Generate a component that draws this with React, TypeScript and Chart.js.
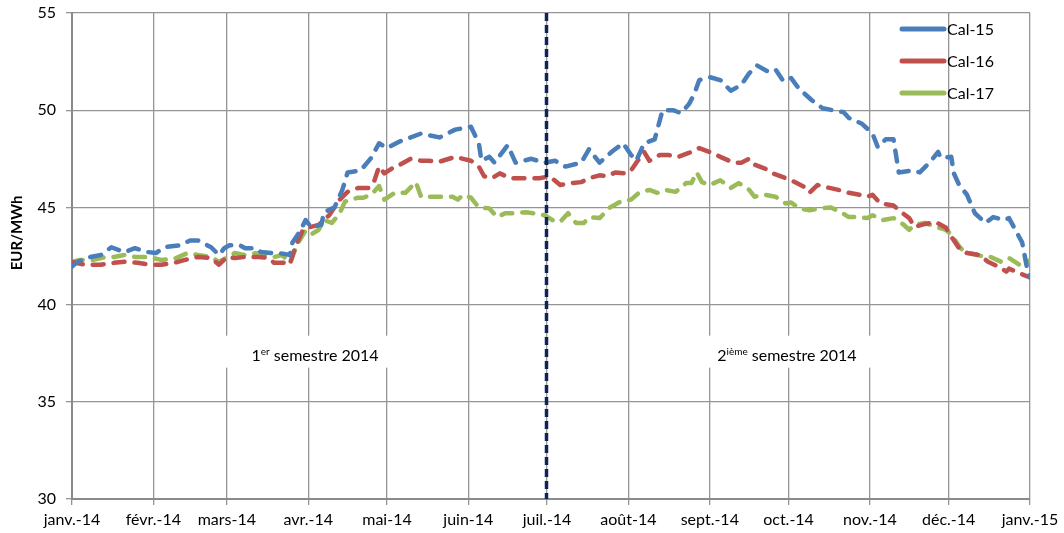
import React, { useEffect, useRef } from "react";
import { Chart, registerables } from "chart.js";

Chart.register(...registerables);

// ---- Data ----
const monthTickDays = [0, 31, 59, 90, 120, 151, 181, 212, 243, 273, 304, 334, 365];
const monthTickLabels = [
  "janv.-14", "févr.-14", "mars-14", "avr.-14", "mai-14", "juin-14", "juil.-14",
  "août-14", "sept.-14", "oct.-14", "nov.-14", "déc.-14", "janv.-15",
];
const yAxisTitle = "EUR/MWh";
const seriesLabels = ["Cal-15", "Cal-16", "Cal-17"];
const seriesColors = ["#4A7EBB", "#C0504D", "#9BBB59"];

const cal15Days = [0,2,7,11,15,20,24,29,32,35,41,45,48,53,56,58,60,64,66,70,72,76,79,83,84,87,89,91,95,96,100,103,105,110,114,117,120,125,133,140,146,152,155,156,159,161,166,169,175,180,184,188,194,197,201,206,210,213,215,218,222,225,229,232,235,237,239,243,247,251,255,258,261,265,268,271,274,277,282,286,290,294,296,301,305,307,310,313,315,320,323,327,330,331,335,336,338,341,344,348,351,355,357,362,364,365];
const cal15Values = [41.95,42.2,42.45,42.55,42.95,42.7,42.9,42.7,42.65,42.95,43.05,43.3,43.3,42.95,42.55,42.9,43.05,43.05,42.9,42.9,42.7,42.65,42.65,42.55,43.2,43.8,44.35,44.0,44.1,44.75,45.0,45.9,46.8,46.9,47.55,48.3,48.05,48.4,48.8,48.6,49.0,49.15,48.3,47.4,47.6,47.3,48.2,47.3,47.5,47.3,47.4,47.1,47.3,48.0,47.3,47.9,48.3,47.7,47.4,48.3,48.5,50.0,50.0,49.85,50.3,50.8,51.55,51.7,51.55,51.0,51.3,51.9,52.3,52.0,52.1,51.5,51.65,51.1,50.5,50.1,50.0,49.9,49.6,49.3,48.8,48.1,48.5,48.5,46.8,46.9,46.8,47.35,47.85,47.55,47.6,46.75,46.15,45.65,44.7,44.2,44.5,44.35,44.45,43.2,41.8,41.4];

const cal16Days = [0,5,11,16,20,25,30,34,39,43,48,53,56,59,62,66,71,75,77,81,83,85,88,91,94,98,102,105,109,113,115,117,119,123,125,129,133,136,140,146,152,155,157,160,163,167,173,178,182,186,190,194,197,201,204,207,211,213,215,218,220,224,227,231,235,239,244,247,252,255,258,260,264,267,272,274,279,281,284,287,292,296,300,303,305,308,313,316,319,321,325,329,333,335,338,341,346,349,353,356,357,363,365];
const cal16Values = [42.2,42.05,42.05,42.15,42.2,42.15,42.05,42.05,42.15,42.3,42.45,42.4,42.05,42.45,42.4,42.45,42.45,42.4,42.15,42.15,42.05,42.95,43.85,44.0,44.1,44.6,45.4,45.8,46.0,46.0,46.3,47.1,46.75,47.1,47.2,47.5,47.4,47.4,47.35,47.6,47.4,47.1,46.6,46.5,46.75,46.5,46.5,46.5,46.6,46.15,46.25,46.3,46.5,46.65,46.6,46.8,46.75,46.9,47.3,47.85,47.4,47.7,47.7,47.6,47.8,48.05,47.8,47.6,47.3,47.3,47.5,47.2,47.0,46.75,46.5,46.4,46.05,45.75,46.15,46.05,45.9,45.75,45.65,45.55,45.65,45.2,45.1,44.75,44.45,44.0,44.15,44.25,43.95,43.5,42.9,42.65,42.55,42.2,41.95,41.7,41.85,41.5,41.4];

const cal17Days = [0,3,8,13,16,20,24,29,34,39,44,48,53,56,58,62,66,70,74,77,80,83,86,89,91,94,96,99,102,104,109,111,114,117,119,123,127,131,133,136,141,145,147,149,152,155,159,162,165,169,173,176,180,183,186,189,192,195,197,201,205,209,213,216,220,223,226,230,234,236,238,240,243,247,251,254,258,260,264,268,272,274,277,281,285,289,293,296,300,303,305,309,313,316,319,321,325,329,333,335,338,340,345,348,350,354,357,362,365];
const cal17Values = [42.2,42.3,42.3,42.45,42.45,42.55,42.45,42.45,42.3,42.35,42.65,42.55,42.45,42.2,42.35,42.65,42.55,42.65,42.55,42.45,42.55,42.15,43.15,43.8,43.6,43.85,44.35,44.2,44.7,45.3,45.5,45.5,45.65,46.1,45.4,45.75,45.75,46.3,45.55,45.55,45.55,45.55,45.4,45.65,45.5,45.0,44.95,44.5,44.7,44.7,44.75,44.7,44.6,44.35,44.25,44.7,44.2,44.2,44.5,44.45,45.0,45.3,45.4,45.75,45.9,45.75,45.9,45.8,46.25,46.25,46.8,46.3,46.15,46.4,46.0,46.25,45.9,45.55,45.65,45.55,45.2,45.25,44.95,44.85,44.95,45.0,44.75,44.5,44.5,44.45,44.6,44.35,44.45,44.2,43.85,44.1,44.2,44.0,43.85,43.6,43.0,42.7,42.55,42.45,42.45,42.2,42.4,41.95,42.3];

const semesterSplitDay = 181;
const semesterNotes = [
  { day: 92.6, value: 37.4, num: "1", sup: "er", rest: " semestre 2014" },
  { day: 272.4, value: 37.4, num: "2", sup: "ième", rest: " semestre 2014" },
];

const FONT = "Lato, 'Open Sans', sans-serif";

const overlayPlugin = {
  id: "overlay",
  beforeDatasetsDraw(chart: any) {
    const { ctx, scales } = chart;
    const x = scales.x;
    const y = scales.y;
    ctx.save();
    for (const n of semesterNotes) {
      const cx = x.getPixelForValue(n.day);
      const cy = y.getPixelForValue(n.value);
      ctx.fillStyle = "#ffffff";
      ctx.fillRect(cx - 90, cy - 19.5, 180, 32);
      ctx.fillStyle = "#000000";
      ctx.textBaseline = "alphabetic";
      ctx.textAlign = "left";
      ctx.font = `16px ${FONT}`;
      const w1 = ctx.measureText(n.num).width;
      const w3 = ctx.measureText(n.rest).width;
      ctx.font = `10px ${FONT}`;
      const w2 = ctx.measureText(n.sup).width;
      let sx = cx - (w1 + w2 + w3) / 2;
      const base = cy + 6;
      ctx.font = `16px ${FONT}`;
      ctx.fillText(n.num, sx, base);
      sx += w1;
      ctx.font = `10px ${FONT}`;
      ctx.fillText(n.sup, sx, base - 6);
      sx += w2;
      ctx.font = `16px ${FONT}`;
      ctx.fillText(n.rest, sx, base);
    }
    ctx.restore();
  },
  afterDatasetsDraw(chart: any) {
    const { ctx, chartArea, scales } = chart;
    const x = scales.x;
    ctx.save();
    // split line
    const vx = Math.round(x.getPixelForValue(semesterSplitDay)) - 0.5;
    ctx.strokeStyle = "#0E2557";
    ctx.lineWidth = 3.5;
    ctx.setLineDash([8, 4]);
    ctx.beginPath();
    ctx.moveTo(vx, chartArea.top);
    ctx.lineTo(vx, chartArea.bottom);
    ctx.stroke();
    ctx.setLineDash([]);
    // legend
    chart.data.datasets.forEach((ds: any, i: number) => {
      const ly = chartArea.top + 16 + i * 32;
      ctx.strokeStyle = ds.borderColor;
      ctx.lineWidth = 5;
      ctx.lineCap = "round";
      ctx.beginPath();
      ctx.moveTo(chartArea.right - 128, ly);
      ctx.lineTo(chartArea.right - 86, ly);
      ctx.stroke();
      ctx.fillStyle = "#000000";
      ctx.font = `16px ${FONT}`;
      ctx.textAlign = "left";
      ctx.textBaseline = "middle";
      ctx.fillText(ds.label, chartArea.right - 83, ly + 1);
    });
    // y-axis title
    ctx.translate(17, chartArea.top + 220);
    ctx.rotate(-Math.PI / 2);
    ctx.fillStyle = "#000000";
    ctx.font = `bold 15px ${FONT}`;
    ctx.textAlign = "center";
    ctx.textBaseline = "middle";
    ctx.fillText(yAxisTitle, 0, 0);
    ctx.restore();
  },
};

export default function App() {
  const canvasRef = useRef<HTMLCanvasElement | null>(null);

  useEffect(() => {
    const canvas = canvasRef.current;
    if (!canvas) return;
    const series = [
      [cal15Days, cal15Values],
      [cal16Days, cal16Values],
      [cal17Days, cal17Values],
    ];
    const chart = new Chart(canvas, {
      type: "line",
      data: {
        datasets: series.map(([days, vals], i) => ({
          label: seriesLabels[i],
          data: (days as number[]).map((d, k) => ({ x: d, y: (vals as number[])[k] })),
          borderColor: seriesColors[i],
          backgroundColor: seriesColors[i],
          borderWidth: 4.5,
          borderDash: [11, 10],
          borderCapStyle: "round",
          borderJoinStyle: "round",
          pointRadius: 0,
          tension: 0,
          fill: false,
        })),
      },
      options: {
        responsive: false,
        animation: false,
        devicePixelRatio: 1,
        layout: { padding: { top: 13, right: 34, left: 0, bottom: 0 } },
        plugins: { legend: { display: false }, tooltip: { enabled: false } },
        scales: {
          x: {
            type: "linear",
            min: 0,
            max: 365,
            afterBuildTicks: (scale: any) => {
              scale.ticks = monthTickDays.map((v) => ({ value: v }));
            },
            afterFit: (scale: any) => {
              scale.height = 34;
              scale.paddingLeft = 0;
              scale.paddingRight = 0;
            },
            ticks: {
              autoSkip: false,
              maxRotation: 0,
              minRotation: 0,
              padding: 5,
              color: "#000000",
              font: { family: FONT, size: 16 },
              callback: (v: any) => {
                const idx = monthTickDays.indexOf(Number(v));
                return idx >= 0 ? monthTickLabels[idx] : "";
              },
            },
            grid: { color: "#959595", lineWidth: 1.3, tickLength: 6, drawTicks: true },
            border: { color: "#8A8A8A", width: 2 },
          },
          y: {
            type: "linear",
            min: 30,
            max: 55,
            afterFit: (scale: any) => {
              scale.width = 72;
              scale.paddingTop = 0;
              scale.paddingBottom = 0;
            },
            ticks: {
              stepSize: 5,
              padding: 10,
              color: "#000000",
              font: { family: FONT, size: 16 },
            },
            title: { display: false },
            grid: { color: "#959595", lineWidth: 1.3, tickLength: 6, drawTicks: true },
            border: { color: "#8A8A8A", width: 2 },
          },
        },
      },
      plugins: [overlayPlugin],
    } as any);
    return () => chart.destroy();
  }, []);

  return (
    <div style={{ position: "absolute", left: 0, top: 0, width: 1064, height: 533, background: "#ffffff" }}>
      <canvas ref={canvasRef} width={1064} height={533} style={{ display: "block" }} />
    </div>
  );
}
